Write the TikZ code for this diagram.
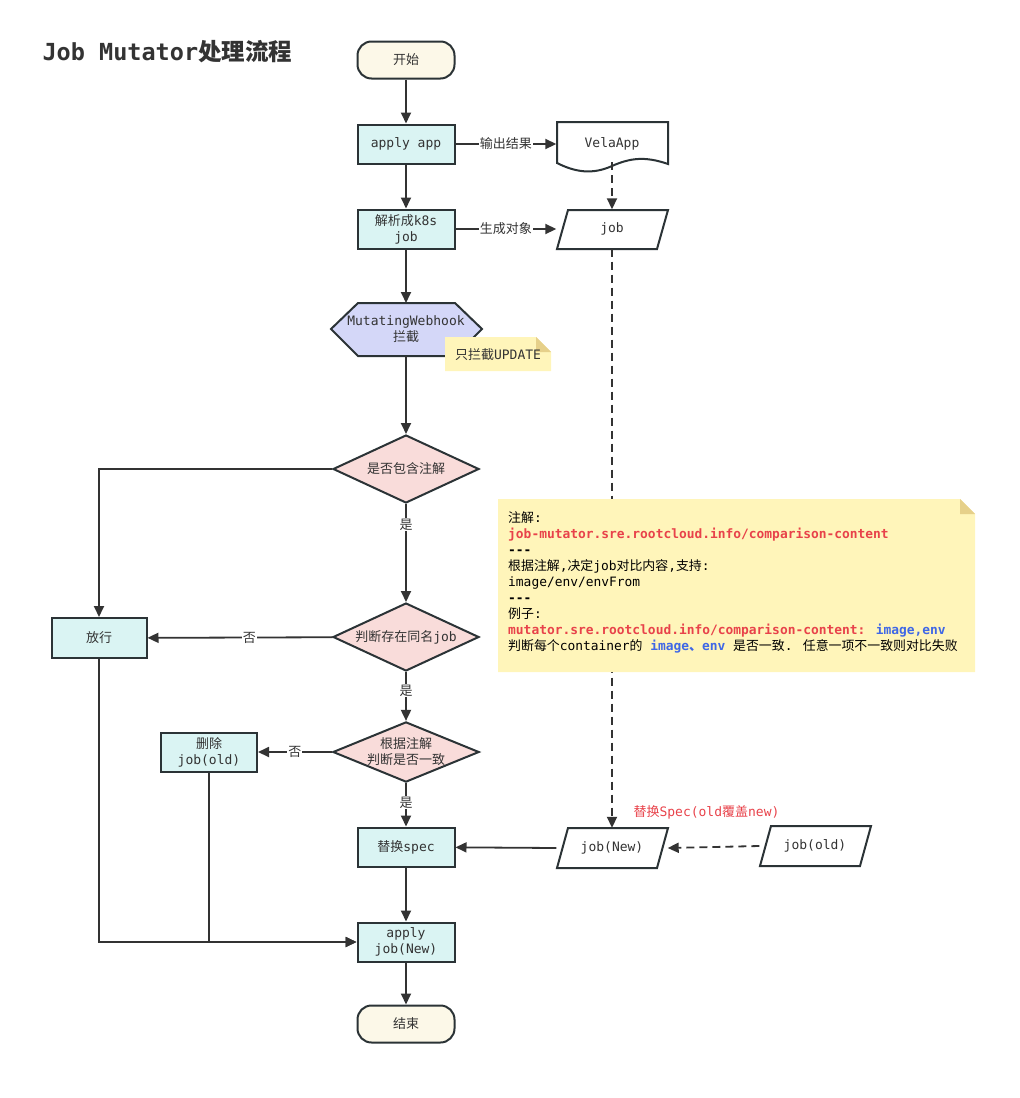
\documentclass[tikz,border=0pt]{standalone}
\usepackage{fontspec}
\setmainfont{DejaVu Sans Mono}
\newfontfamily\cjk{Noto Sans CJK SC}
\newcommand\zh[1]{{\cjk #1}}
\usetikzlibrary{shapes.geometric,arrows.meta}

\definecolor{linec}{HTML}{333333}
\definecolor{borderc}{HTML}{2B3336}
\definecolor{textc}{HTML}{333333}
\definecolor{termc}{HTML}{FCF8E8}
\definecolor{procc}{HTML}{DAF4F3}
\definecolor{hookc}{HTML}{D4D7F8}
\definecolor{decc}{HTML}{F9DCDA}
\definecolor{notec}{HTML}{FFF5BA}
\definecolor{foldc}{HTML}{E6D08A}
\definecolor{keyred}{HTML}{E8424A}
\definecolor{keyblue}{HTML}{3F67E6}

\tikzset{
  every node/.style={font=\fontsize{13}{16}\selectfont, text=textc},
  flow/.style={draw=linec, line width=1.8pt, -{Triangle[length=11pt,width=10pt]}},
  dflow/.style={flow, dash pattern=on 8pt off 5pt},
  shapeline/.style={draw=borderc, line width=2pt},
  termbox/.style={shapeline, fill=termc, rounded corners=14pt, minimum width=97pt, minimum height=37pt, inner sep=0pt},
  procbox/.style={shapeline, fill=procc, minimum width=97pt, minimum height=39pt, inner sep=0pt, align=center},
  decbox/.style={diamond, shapeline, fill=decc, minimum width=146pt, minimum height=68pt, inner sep=0pt, aspect=2.15, align=center},
  ghost/.style={minimum width=111pt, minimum height=40pt, inner sep=0pt, align=center},
  elabel/.style={fill=white, inner sep=1pt},
}

\begin{document}
\begin{tikzpicture}[x=1pt,y=-1pt]
\useasboundingbox (0,0) rectangle (1020,1098);

\node[anchor=west, font=\fontsize{23.5}{26}\selectfont\bfseries] (title) at (39,52) {Job Mutator\zh{处理流程}};

% left column
\node[termbox] (start) at (406,60) {\zh{开始}};
\node[procbox] (app) at (406,144) {apply app};
\node[procbox] (parse) at (406,229) {\zh{解析成}k8s\\job};

\filldraw[shapeline, fill=hookc] (331,329) -- (358,303) -- (455,303) -- (482,329) -- (455,356) -- (358,356) -- cycle;
\node[align=center] (hook) at (406,329) {MutatingWebhook\\\zh{拦截}};

\node[decbox] (hasanno) at (406,469) {\zh{是否包含注解}};
\node[decbox] (samename) at (406,637) {\zh{判断存在同名}job};
\node[decbox, minimum width=142pt, minimum height=58pt, aspect=2.43] (same) at (406,752) {\zh{根据注解}\\\zh{判断是否一致}};
\node[procbox] (replace) at (406,847) {\zh{替换}spec};
\node[procbox] (applynew) at (406,942) {apply\\job(New)};
\node[termbox] (stop) at (406,1024) {\zh{结束}};

\node[procbox, minimum width=95pt, minimum height=40pt] (pass) at (99,638) {\zh{放行}};
\node[procbox, minimum width=96pt] (del) at (209,752) {\zh{删除}\\job(old)};

% right column
\filldraw[shapeline, fill=white] (557,122) -- (668,122) -- (668,164)
  .. controls (645,156) and (630,158) .. (612,166)
  .. controls (592,175) and (575,172) .. (557,163) -- cycle;
\node[ghost] (vela) at (612,144) {VelaApp};

\filldraw[shapeline, fill=white] (568,210) -- (668,210) -- (657,249) -- (557,249) -- cycle;
\node[ghost, minimum height=39pt] (job) at (612,229) {job};

\filldraw[shapeline, fill=white] (568,828) -- (668,828) -- (657,868) -- (557,868) -- cycle;
\node[ghost] (jobnew) at (612,848) {job(New)};

\filldraw[shapeline, fill=white] (771,826) -- (871,826) -- (860,866) -- (760,866) -- cycle;
\node[ghost] (jobold) at (815,846) {job(old)};

% connectors
\draw[flow] (start) -- (app);
\draw[flow] (app) -- node[elabel] {\zh{输出结果}} (vela);
\draw[flow] (app) -- (parse);
\draw[flow] (parse) -- node[elabel] {\zh{生成对象}} (job);
\draw[flow] (parse) -- (406,303);
\draw[flow] (406,356) -- (hasanno);
\draw[dflow] (vela.south) ++(0,-2) -- (job);
\draw[dflow] (job) -- (jobnew);

\draw[flow] (hasanno.west) -| (pass.north);
\draw[flow] (hasanno) -- node[elabel, pos=0.21] {\zh{是}} (samename);
\draw[flow] (samename) -- node[elabel, pos=0.45] {\zh{否}} (pass);
\draw[flow] (samename) -- node[elabel, pos=0.38] {\zh{是}} (same);
\draw[flow] (same) -- node[elabel, pos=0.5] {\zh{否}} (del);
\draw[flow] (same) -- node[elabel, pos=0.45] {\zh{是}} (replace);
\draw[flow] (jobnew.west) -- (replace);
\draw[dflow] (jobold.west) -- (jobnew.east);
\draw[flow] (replace) -- (applynew);
\draw[flow] (pass.south) |- (applynew.west);
\draw[flow] (del.south) |- (applynew.west);
\draw[flow] (applynew) -- (stop);

\node[anchor=west, text=keyred] (swaplabel) at (630,812) {\zh{替换}Spec(old\zh{覆盖}new)};

% notes
\fill[notec] (445,337) -- (536,337) -- (551,352) -- (551,371) -- (445,371) -- cycle;
\fill[foldc] (536,337) -- (551,352) -- (536,352) -- cycle;
\node (hooknote) at (498,355) {\zh{只拦截}UPDATE};

\fill[notec] (498,499) -- (960,499) -- (975,514) -- (975,672) -- (498,672) -- cycle;
\fill[foldc] (960,499) -- (975,514) -- (960,514) -- cycle;
\node[anchor=north west, align=left, inner sep=0pt, text=black, font=\fontsize{12.9}{16}\selectfont] (annonote) at (508,511) {%
\zh{注解}:\\
\textcolor{keyred}{\bfseries job-mutator.sre.rootcloud.info/comparison-content}\\
\textbf{-{}-{}-}\\
\zh{根据注解},\zh{决定}job\zh{对比内容},\zh{支持}:\\
image/env/envFrom\\
\textbf{-{}-{}-}\\
\zh{例子}:\\
\textcolor{keyred}{\bfseries mutator.sre.rootcloud.info/comparison-content:} \textcolor{keyblue}{\bfseries image,env}\\
\zh{判断每个}container\zh{的} \textcolor{keyblue}{\bfseries image\zh{、}env} \zh{是否一致}. \zh{任意一项不一致则对比失败}};

\end{tikzpicture}
\end{document}
